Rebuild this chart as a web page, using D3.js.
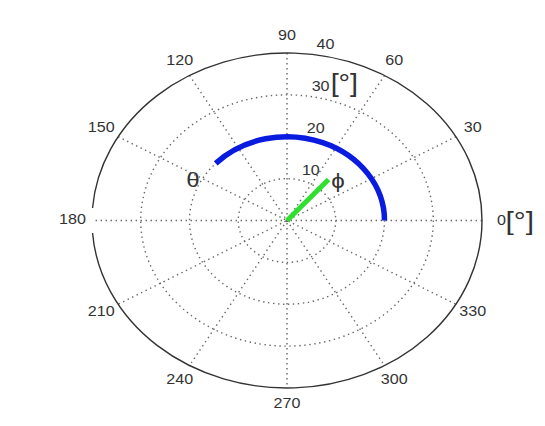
<!DOCTYPE html>
<html>
<head>
<meta charset="utf-8">
<script src="https://cdn.jsdelivr.net/npm/d3@7/dist/d3.min.js"></script>
<style>
  html, body { margin: 0; padding: 0; background: #fff; }
  svg { display: block; }
  text { font-family: "Liberation Sans", Arial, sans-serif; fill: #333; }
</style>
</head>
<body>
<script>
// Polar axis ticks
const radialTicks = [10, 20, 30, 40];
const angleTicks = [0, 30, 60, 90, 120, 150, 180, 210, 240, 270, 300, 330];
const spokeAngles = [0, 30, 60, 90, 120, 150];

// Series: theta sweep at constant radius, phi ray from the origin
const thetaAngles = [0, 137];
const thetaRadius = [20, 20];
const phiAngles = [49, 49];
const phiRadius = [0, 13];

// Symbol labels placed in polar coordinates [angle, radius]
const symbolNames = ["θ", "ϕ"];
const symbolAngles = [154.5, 40.6];
const symbolRadius = [21.4, 13.8];

const W = 545, H = 426;
const cx = 287, cy = 220.5;
const rMax = 40;

const svg = d3.select("body").append("svg")
  .attr("width", W).attr("height", H);

// Elliptical plot area: separate horizontal and vertical radius scales
const rX = d3.scaleLinear().domain([0, rMax]).range([0, 195]);
const rY = d3.scaleLinear().domain([0, rMax]).range([0, 167.5]);
const rad = d => d * Math.PI / 180;
const px = (a, r) => cx + rX(r) * Math.cos(rad(a));
const py = (a, r) => cy - rY(r) * Math.sin(rad(a));

const stretch = 1.15;
function label(x, y, str, size, anchor, baseline) {
  return svg.append("text")
    .attr("transform", `translate(${x},${y}) scale(${stretch},1)`)
    .attr("text-anchor", anchor || "middle")
    .attr("dominant-baseline", baseline || "middle")
    .style("font-size", size + "px")
    .text(str);
}

const grid = svg.append("g")
  .attr("fill", "none")
  .attr("stroke", "#666")
  .attr("stroke-width", 1.4)
  .attr("stroke-dasharray", "1.4,3.6");

// Dotted inner rings
grid.selectAll("ellipse.ring")
  .data(radialTicks.filter(r => r < rMax))
  .enter().append("ellipse")
  .attr("class", "ring")
  .attr("cx", cx).attr("cy", cy)
  .attr("rx", d => rX(d)).attr("ry", d => rY(d));

// Dotted spokes across the full diameter
grid.selectAll("line.spoke")
  .data(spokeAngles)
  .enter().append("line")
  .attr("class", "spoke")
  .attr("x1", d => px(d, rMax)).attr("y1", d => py(d, rMax))
  .attr("x2", d => px(d + 180, rMax)).attr("y2", d => py(d + 180, rMax));

// Outer boundary, open around the 180 label
const gap = 4.3;
const ox = rX(rMax), oy = rY(rMax);
svg.append("path")
  .attr("d", `M${px(180 + gap, rMax)},${py(180 + gap, rMax)}` +
             ` A${ox},${oy} 0 0 0 ${px(0, rMax)},${py(0, rMax)}` +
             ` A${ox},${oy} 0 0 0 ${px(180 - gap, rMax)},${py(180 - gap, rMax)}`)
  .attr("fill", "none")
  .attr("stroke", "#333")
  .attr("stroke-width", 1.4);

// Angle tick labels
angleTicks.forEach(a => {
  const x = px(a, rMax * 1.1), y = py(a, rMax * 1.1);
  if (a === 0) {
    label(x, y + 1, String(a), 14, "middle");
    label(x + 4, y + 9, "[°]", 26, "start", "auto");
  } else {
    label(x, y, String(a), 14, "middle");
  }
});

// Radial tick labels
radialTicks.forEach(r => {
  const x = cx + 10 + 0.1 * rX(r);
  const y = cy - rY(r) - 4;
  label(x, y, String(r), 14, "start", "auto");
  if (r === 30) label(x + 19, y + 1, "[°]", 25, "start", "auto");
});

// Theta sweep drawn as an elliptical arc at its radius
svg.append("path")
  .attr("d", `M${px(thetaAngles[0], thetaRadius[0])},${py(thetaAngles[0], thetaRadius[0])}` +
             ` A${rX(thetaRadius[0])},${rY(thetaRadius[0])} 0 0 0 ` +
             `${px(thetaAngles[1], thetaRadius[1])},${py(thetaAngles[1], thetaRadius[1])}`)
  .attr("fill", "none")
  .attr("stroke", "#0a1be0")
  .attr("stroke-width", 5.5);

// Phi ray
const phiLine = d3.line()
  .x((d, i) => px(phiAngles[i], phiRadius[i]))
  .y((d, i) => py(phiAngles[i], phiRadius[i]));
svg.append("path")
  .attr("d", phiLine(phiAngles))
  .attr("fill", "none")
  .attr("stroke", "#2fe02f")
  .attr("stroke-width", 5);

// Greek symbol labels
symbolNames.forEach((s, i) => {
  label(px(symbolAngles[i], symbolRadius[i]), py(symbolAngles[i], symbolRadius[i]), s, 21, "middle");
});
</script>
</body>
</html>
